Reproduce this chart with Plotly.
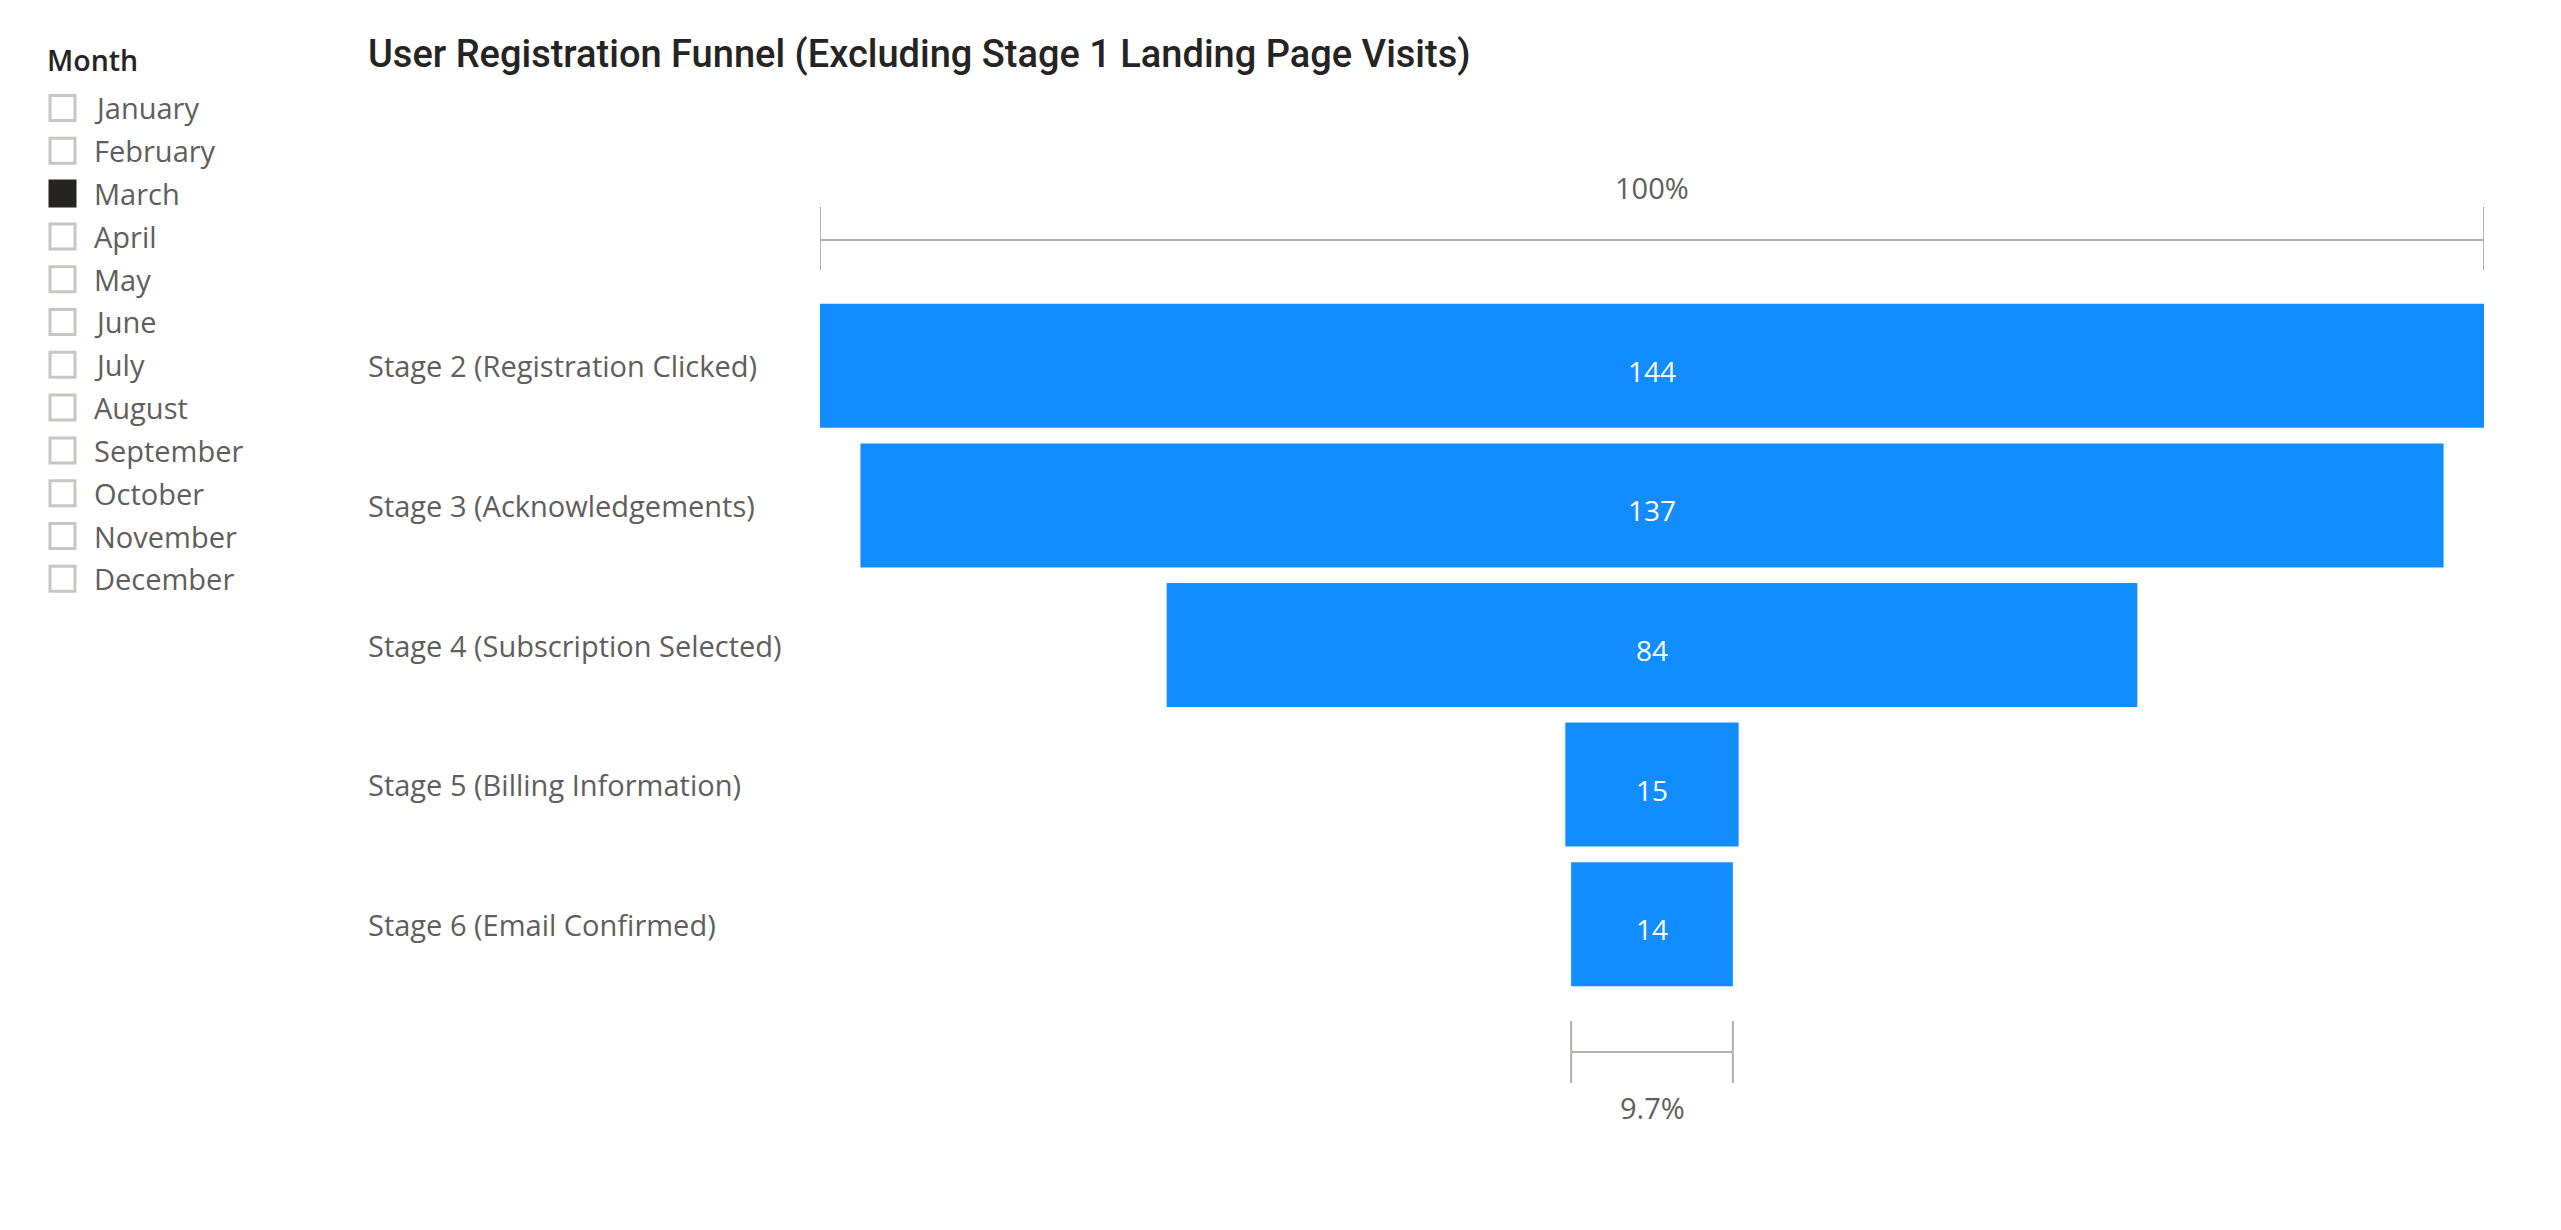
import plotly.graph_objects as go

# ---------------- data ----------------
stages = [
    "Stage 2 (Registration Clicked)",
    "Stage 3 (Acknowledgements)",
    "Stage 4 (Subscription Selected)",
    "Stage 5 (Billing Information)",
    "Stage 6 (Email Confirmed)",
]
counts = [144, 137, 84, 15, 14]
months = ["January", "February", "March", "April", "May", "June", "July",
          "August", "September", "October", "November", "December"]
selected_month = "March"
slicer_title = "Month"
chart_title = "User Registration Funnel (Excluding Stage 1 Landing Page Visits)"

# ---------------- layout helpers ----------------
W, H = 2561, 1230
def px(x):
    return x / W
def py(y):
    return 1 - y / H

BLUE = "#118DFF"
GREY_LINE = "#B3B0AD"
LABEL = "#605E5C"
DARK = "#252423"
FONT = "Open Sans"

fig = go.Figure(go.Funnel(
    y=stages,
    x=counts,
    textinfo="none",
    marker=dict(color=BLUE, line=dict(width=0)),
    connector=dict(visible=False),
    hoverinfo="y+x",
))

half = max(counts) / 2
fig.update_layout(
    width=W, height=H,
    margin=dict(l=0, r=0, t=0, b=0),
    paper_bgcolor="white", plot_bgcolor="white",
    showlegend=False,
    funnelgap=0.112,
    xaxis=dict(domain=[px(820), px(2484)], range=[-half, half], visible=False, fixedrange=True),
    yaxis=dict(domain=[py(994), py(296)], categoryorder="array", categoryarray=stages,
               range=[len(stages) - 0.5, -0.5], visible=False, fixedrange=True),
)

annotations = []
shapes = []

# title
annotations.append(dict(x=px(366), y=py(54), xref="paper", yref="paper", xanchor="left", yanchor="middle",
                        text=chart_title, showarrow=False,
                        font=dict(family="Roboto", size=38, color=DARK, weight=500)))

# stage labels (left-aligned) and value labels
for s, c in zip(stages, counts):
    annotations.append(dict(x=px(366), y=s, xref="paper", yref="y", xanchor="left", yanchor="middle",
                            text=s, showarrow=False, font=dict(family=FONT, size=29, color=LABEL)))
    annotations.append(dict(x=0, y=s, xref="x", yref="y", xanchor="center", yanchor="middle",
                            text=str(c), showarrow=False, yshift=-5,
                            font=dict(family=FONT, size=28, color="white")))

# top bracket: 100%
top_l, top_r = -counts[0] / 2, counts[0] / 2
shapes.append(dict(type="line", xref="x", yref="paper", x0=top_l, x1=top_r, y0=py(240), y1=py(240),
                   line=dict(color=GREY_LINE, width=2)))
for xv in (top_l, top_r):
    shapes.append(dict(type="line", xref="x", yref="paper", x0=xv, x1=xv, y0=py(207), y1=py(270),
                       line=dict(color=GREY_LINE, width=2)))
annotations.append(dict(x=0, y=py(188), xref="x", yref="paper", xanchor="center", yanchor="middle",
                        text="100%", showarrow=False, font=dict(family=FONT, size=29, color=LABEL)))

# bottom bracket: last / first
bot_l, bot_r = -counts[-1] / 2, counts[-1] / 2
shapes.append(dict(type="line", xref="x", yref="paper", x0=bot_l, x1=bot_r, y0=py(1052), y1=py(1052),
                   line=dict(color=GREY_LINE, width=2)))
for xv in (bot_l, bot_r):
    shapes.append(dict(type="line", xref="x", yref="paper", x0=xv, x1=xv, y0=py(1021), y1=py(1083),
                       line=dict(color=GREY_LINE, width=2)))
annotations.append(dict(x=0, y=py(1107), xref="x", yref="paper", xanchor="center", yanchor="middle",
                        text=f"{counts[-1] / counts[0] * 100:.1f}%", showarrow=False,
                        font=dict(family=FONT, size=29, color=LABEL)))

# slicer
annotations.append(dict(x=px(45), y=py(60), xref="paper", yref="paper", xanchor="left", yanchor="middle",
                        text=slicer_title, showarrow=False,
                        font=dict(family=FONT, size=28.5, color=DARK, weight=600)))
for i, m in enumerate(months):
    yc = 108 + 42.8 * i
    checked = (m == selected_month)
    shapes.append(dict(type="rect", xref="paper", yref="paper",
                       x0=px(50), x1=px(75), y0=py(yc - 12.5), y1=py(yc + 12.5),
                       line=dict(color=DARK if checked else "#C8C6C4", width=3),
                       fillcolor=DARK if checked else "white"))
    annotations.append(dict(x=px(92), y=py(yc), xref="paper", yref="paper", xanchor="left", yanchor="middle",
                            text=m, showarrow=False, font=dict(family=FONT, size=29, color=LABEL)))

fig.update_layout(annotations=annotations, shapes=shapes)

fig.write_html("out.html", config={"displayModeBar": False},
               post_script="document.body.style.margin='0';document.body.style.overflow='hidden';")
